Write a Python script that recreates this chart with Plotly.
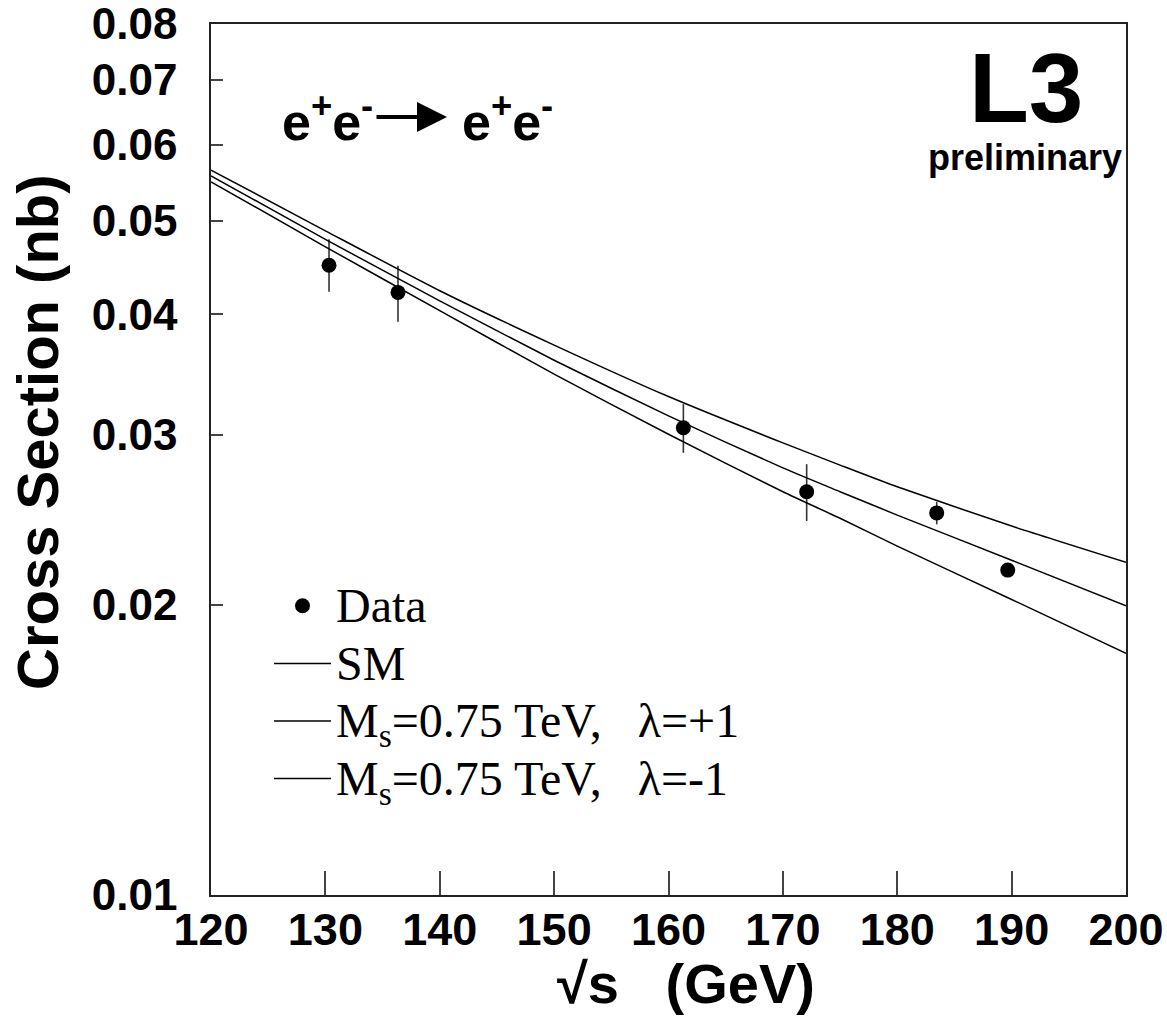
import math
import plotly.graph_objects as go

# Bhabha cross section vs. centre-of-mass energy (L3, preliminary)
sqrt_s = [130.32, 136.35, 161.3, 172.08, 183.45, 189.66]
xsec = [0.04498, 0.04215, 0.03051, 0.02619, 0.02490, 0.02172]
err_up = [0.00286, 0.00276, 0.00177, 0.00178, 0.00066, 0.0003]
err_down = [0.00277, 0.00286, 0.00177, 0.00177, 0.00067, 0.0003]

# Theory curves
energies = [120, 130, 140, 150, 160, 170, 175, 180, 190, 200]
sm = [0.05568, 0.04784, 0.04131, 0.03585, 0.03139, 0.02772, 0.02619, 0.02477, 0.02224, 0.01995]
ms075_lam_plus = [0.05645, 0.04883, 0.04232, 0.03717, 0.03287, 0.02943, 0.02791, 0.02650, 0.02413, 0.02213]
ms075_lam_minus = [0.05489, 0.04700, 0.04035, 0.03468, 0.03004, 0.02619, 0.02458, 0.02300, 0.02025, 0.01781]

y_ticks = [0.01, 0.02, 0.03, 0.04, 0.05, 0.06, 0.07, 0.08]
y_ticktext = ["0.01", "0.02", "0.03", "0.04", "0.05", "0.06", "0.07", "0.08"]
x_ticks = [120, 130, 140, 150, 160, 170, 180, 190, 200]

SANS = "Liberation Sans, Arial, Helvetica, sans-serif"
SERIF = "Liberation Serif, Times New Roman, serif"
NB = "\u00a0"

# plot area in pixels
L, R, T, B = 211, 41, 24, 126
W, H = 1167, 1021
PW, PH = W - L - R, H - T - B


def px(x):
    return (x - L) / PW


def py(y):
    return (H - B - y) / PH


def legend_label(text):
    # larger glyphs than the legend font, so rows stay tightly packed
    return "<span style='font-size:48px'>" + text + "</span>"


fig = go.Figure()

fig.add_trace(go.Scatter(
    x=sqrt_s, y=xsec, mode="markers", name=legend_label("Data"),
    marker=dict(color="black", size=15, symbol="circle"),
    error_y=dict(type="data", symmetric=False, array=err_up, arrayminus=err_down,
                 color="#333333", thickness=1.6, width=0),
    legendgroup="a",
))

line_style = dict(color="black", width=1.5, shape="spline", smoothing=0.6)
fig.add_trace(go.Scatter(x=energies, y=sm, mode="lines", name=legend_label("SM"),
                         line=line_style, legendgroup="b"))
fig.add_trace(go.Scatter(x=energies, y=ms075_lam_plus, mode="lines",
                         name=legend_label("M<sub>s</sub>=0.75 TeV," + NB * 2 + " λ=+1"),
                         line=line_style, legendgroup="c"))
fig.add_trace(go.Scatter(x=energies, y=ms075_lam_minus, mode="lines",
                         name=legend_label("M<sub>s</sub>=0.75 TeV," + NB * 2 + " λ=-1"),
                         line=line_style, legendgroup="d"))

fig.update_layout(
    width=W, height=H,
    margin=dict(l=L, r=R, t=T, b=B, autoexpand=False),
    paper_bgcolor="white", plot_bgcolor="white",
    showlegend=True,
    legend=dict(
        x=px(269), y=py(572), xanchor="left", yanchor="top",
        font=dict(family=SERIF, size=42, color="black"),
        bgcolor="rgba(0,0,0,0)", borderwidth=0,
        tracegroupgap=0, itemwidth=57,
    ),
    xaxis=dict(
        range=[120, 200], tickvals=x_ticks, automargin=False,
        ticks="inside", ticklen=24, tickwidth=1.5, tickcolor="#444",
        ticklabelstandoff=-6, ticklabeloverflow="allow",
        showline=True, linecolor="#222", linewidth=1.5, mirror=True,
        showgrid=False, zeroline=False,
        tickfont=dict(family=SANS, size=45, color="black", weight="bold"),
    ),
    yaxis=dict(
        type="log", range=[-2, math.log10(0.08) + 1e-6], automargin=False,
        tickvals=y_ticks, ticktext=y_ticktext,
        ticks="inside", ticklen=12, tickwidth=1.5, tickcolor="#444",
        ticklabelstandoff=23, ticklabeloverflow="allow",
        showline=True, linecolor="#222", linewidth=1.5, mirror=True,
        showgrid=False, zeroline=False,
        tickfont=dict(family=SANS, size=44, color="black", weight="bold"),
    ),
)

# Axis titles
fig.add_annotation(xref="paper", yref="paper", x=px(37), y=py(432),
                   xanchor="center", yanchor="middle", showarrow=False, textangle=-90,
                   text="Cross Section (nb)",
                   font=dict(family=SANS, size=58, color="black", weight="bold"))
fig.add_annotation(xref="paper", yref="paper", x=px(686), y=py(984),
                   xanchor="center", yanchor="middle", showarrow=False,
                   text="√s" + NB * 3 + "(GeV)",
                   font=dict(family=SANS, size=56, color="black", weight="bold"))

# Process label: e+e- -> e+e-
fig.add_annotation(xref="paper", yref="paper", x=px(280), y=py(118),
                   xanchor="left", yanchor="middle", showarrow=False,
                   text="e<sup>+</sup>e<sup>-</sup>",
                   font=dict(family=SANS, size=52, color="black", weight="bold"))
fig.add_annotation(xref="paper", yref="paper", x=px(447), y=py(117),
                   ax=-72, ay=0, axref="pixel", ayref="pixel",
                   text="", showarrow=True, arrowhead=2, arrowsize=1.5,
                   arrowwidth=4, arrowcolor="black")
fig.add_annotation(xref="paper", yref="paper", x=px(460), y=py(118),
                   xanchor="left", yanchor="middle", showarrow=False,
                   text="e<sup>+</sup>e<sup>-</sup>",
                   font=dict(family=SANS, size=52, color="black", weight="bold"))

# Experiment tag
fig.add_annotation(xref="paper", yref="paper", x=px(1026), y=py(88),
                   xanchor="center", yanchor="middle", showarrow=False,
                   text="L3",
                   font=dict(family=SANS, size=98, color="black", weight="bold"))
fig.add_annotation(xref="paper", yref="paper", x=px(1124), y=py(157),
                   xanchor="right", yanchor="middle", showarrow=False,
                   text="preliminary",
                   font=dict(family=SANS, size=36, color="black", weight="bold"))

fig.write_html("out.html")
